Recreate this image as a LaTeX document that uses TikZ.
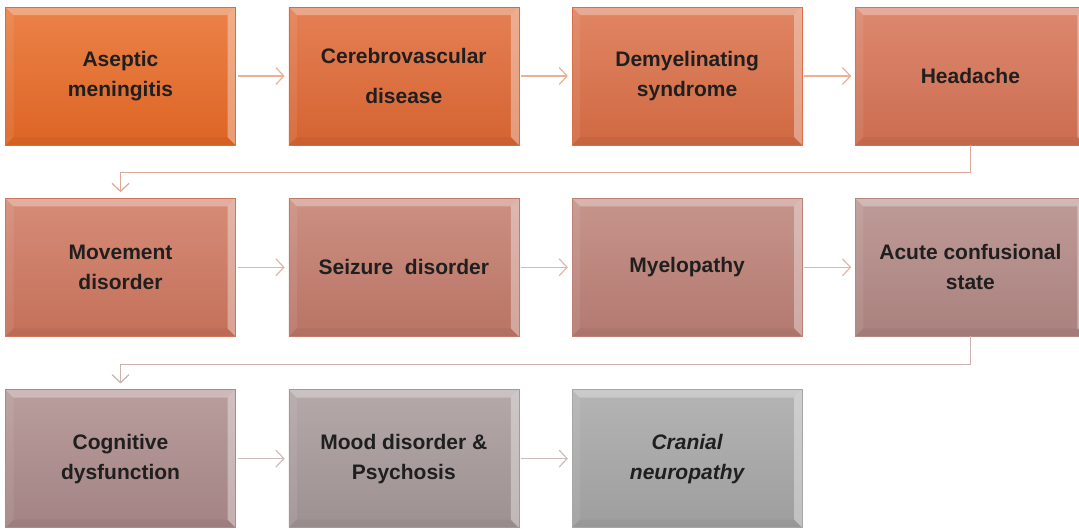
\documentclass[tikz,border=0pt]{standalone}
\usepackage{fontspec}
\setmainfont{Liberation Sans}
\usepackage{tikz}
\usetikzlibrary{arrows.meta,positioning}

% box colours, row by row
\definecolor{cA}{RGB}{232,106,38}
\definecolor{cB}{RGB}{224,104,52}
\definecolor{cC}{RGB}{219,110,70}
\definecolor{cD}{RGB}{214,114,84}
\definecolor{cE}{RGB}{206,118,94}
\definecolor{cF}{RGB}{194,122,106}
\definecolor{cG}{RGB}{188,128,118}
\definecolor{cH}{RGB}{178,136,132}
\definecolor{cI}{RGB}{172,138,138}
\definecolor{cJ}{RGB}{166,152,152}
\definecolor{cK}{RGB}{166,166,166}
% connector colours
\definecolor{lnA}{RGB}{236,176,150}
\definecolor{lnB}{RGB}{226,180,170}
\definecolor{lnC}{RGB}{205,188,188}
\definecolor{lnR}{RGB}{222,168,150}
\definecolor{lnS}{RGB}{205,176,176}

\begin{document}
\begin{tikzpicture}[
  x=1pt, y=1pt,
  font=\fontsize{21}{30}\selectfont\bfseries,
  tile/.style={minimum width=230pt, minimum height=138pt, inner sep=0pt,
               align=center, text=black!88,
               top color=#1!84!white, bottom color=#1!95!black,
               draw=#1, line width=0.3pt,
               path picture={
                 \def\pb{path picture bounding box}
                 \fill[white, opacity=.30] (\pb.north west) -- (\pb.north east)
                   -- ([shift={(-8pt,-8pt)}]\pb.north east) -- ([shift={(8pt,-8pt)}]\pb.north west) -- cycle;
                 \fill[white, opacity=.36] (\pb.north east) -- (\pb.south east)
                   -- ([shift={(-8pt,8pt)}]\pb.south east) -- ([shift={(-8pt,-8pt)}]\pb.north east) -- cycle;
                 \fill[white, opacity=.08] (\pb.north west) -- (\pb.south west)
                   -- ([shift={(8pt,8pt)}]\pb.south west) -- ([shift={(8pt,-8pt)}]\pb.north west) -- cycle;
                 \fill[black, opacity=.04] (\pb.south west) -- (\pb.south east)
                   -- ([shift={(-8pt,8pt)}]\pb.south east) -- ([shift={(8pt,8pt)}]\pb.south west) -- cycle;
               }},
  link/.style={draw=#1, line width=1.2pt,
               -{Straight Barb[length=8pt,width=17pt,line width=1.2pt]},
               shorten <=2pt, shorten >=4pt},
  node distance=53pt and 53pt,
]
\useasboundingbox (0,0) rectangle (1079,-528);

\node[tile=cA] (a1) at (120.5,-76) {Aseptic\\meningitis};
\node[tile=cB, right=of a1] (a2) {Cerebrovascular\\[10pt]disease};
\node[tile=cC, right=of a2] (a3) {Demyelinating\\syndrome};
\node[tile=cD, right=of a3] (a4) {Headache};

\node[tile=cE, below=of a1] (b1) {Movement\\disorder};
\node[tile=cF, right=of b1] (b2) {Seizure~~disorder};
\node[tile=cG, right=of b2] (b3) {Myelopathy};
\node[tile=cH, right=of b3] (b4) {Acute confusional\\state};

\node[tile=cI, below=of b1] (c1) {Cognitive\\dysfunction};
\node[tile=cJ, right=of c1] (c2) {Mood disorder \&\\Psychosis};
\node[tile=cK, right=of c2] (c3) {\itshape Cranial\\\itshape neuropathy};

\foreach \a/\b in {a1/a2,a2/a3,a3/a4} \draw[link=lnA] (\a) -- (\b);
\foreach \a/\b in {b1/b2,b2/b3,b3/b4} \draw[link=lnB] (\a) -- (\b);
\foreach \a/\b in {c1/c2,c2/c3} \draw[link=lnC] (\a) -- (\b);

\draw[link=lnR, shorten <=0pt, shorten >=6pt] (a4.south) -- ++(0,-27) -| (b1.north);
\draw[link=lnS, shorten <=0pt, shorten >=6pt] (b4.south) -- ++(0,-28) -| (c1.north);
\end{tikzpicture}
\end{document}
